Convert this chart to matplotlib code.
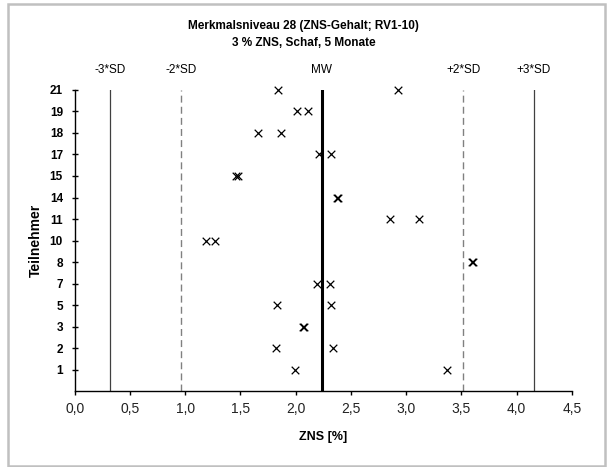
import matplotlib.pyplot as plt
from matplotlib.patches import Rectangle
import matplotlib.transforms as mtransforms

plt.rcParams['font.family'] = ['Liberation Sans', 'DejaVu Sans']

# Teilnehmer (von unten nach oben) und ihre beiden Messwerte
teilnehmer = ['1', '2', '3', '5', '7', '8', '10', '11', '14', '15', '17', '18', '19', '21']
wert_a = [1.997, 1.825, 2.066, 1.834, 2.193, 3.597, 1.185, 2.853, 2.374, 1.457, 2.211, 1.662, 2.009, 1.837]
wert_b = [3.372, 2.335, 2.074, 2.322, 2.31, 3.605, 1.273, 3.116, 2.382, 1.48, 2.32, 1.867, 2.114, 2.929]

mw = 2.237
sd = 0.639
grenzen = [mw - 3 * sd, mw - 2 * sd, mw, mw + 2 * sd, mw + 3 * sd]
grenz_namen = ['-3*SD', '-2*SD', 'MW', '+2*SD', '+3*SD']
x_ticks = [0.0, 0.5, 1.0, 1.5, 2.0, 2.5, 3.0, 3.5, 4.0, 4.5]

fig = plt.figure(figsize=(6.07, 4.67), dpi=100)
# grauer Rahmen um das ganze Diagramm
fig.patches.append(Rectangle((8 / 607, 1 / 467), 597 / 607, 462 / 467, transform=fig.transFigure,
                             fill=False, edgecolor='#c0c0c0', linewidth=1.8))

ax = fig.add_axes([0.1231, 0.1627, 0.8192, 0.6446])

pos = range(1, len(teilnehmer) + 1)
ax.scatter(wert_a, pos, marker='x', color='black', s=30, linewidths=0.9, zorder=3, clip_on=False)
ax.scatter(wert_b, pos, marker='x', color='black', s=30, linewidths=0.9, zorder=3, clip_on=False)

# Mittelwert und Streugrenzen
ax.axvline(grenzen[0], color='#404040', linewidth=0.9)
ax.axvline(grenzen[4], color='#404040', linewidth=0.9)
ax.axvline(grenzen[1], color='#808080', linewidth=1.0, dashes=(5, 3))
ax.axvline(grenzen[3], color='#808080', linewidth=1.0, dashes=(5, 3))
ax.axvline(grenzen[2], color='black', linewidth=2.2)

trans = mtransforms.blended_transform_factory(ax.transData, ax.transAxes)
for g, name in zip(grenzen, grenz_namen):
    ax.text(g, 1.067, name, transform=trans, ha='center', va='center', fontsize=8.5)

ax.set_xlim(0, 4.5)
ax.set_ylim(0, 14)
ax.set_xticks(x_ticks)
ax.set_xticklabels([('%.1f' % t).replace('.', ',') for t in x_ticks], fontsize=10, color='#222222')
ax.set_yticks(list(pos))
ax.set_yticklabels(teilnehmer, fontsize=8.5, fontweight='bold')
ax.tick_params(axis='y', direction='inout', length=5, width=1, pad=6)
ax.tick_params(axis='x', direction='out', length=3, width=1, pad=5)

for s in ['top', 'right']:
    ax.spines[s].set_visible(False)
ax.spines['left'].set_linewidth(1)
ax.spines['bottom'].set_linewidth(1)

ax.set_xlabel('ZNS [%]', fontsize=9, fontweight='bold', labelpad=11)
ax.set_ylabel('Teilnehmer', fontsize=10, fontweight='bold', labelpad=5)

fig.text(0.5, 1 - 26 / 467, 'Merkmalsniveau 28 (ZNS-Gehalt; RV1-10)', ha='center', va='center',
         fontsize=8.5, fontweight='bold')
fig.text(0.5, 1 - 43 / 467, '3 % ZNS, Schaf, 5 Monate', ha='center', va='center',
         fontsize=8.5, fontweight='bold')

fig.savefig('out.png', dpi=100)
